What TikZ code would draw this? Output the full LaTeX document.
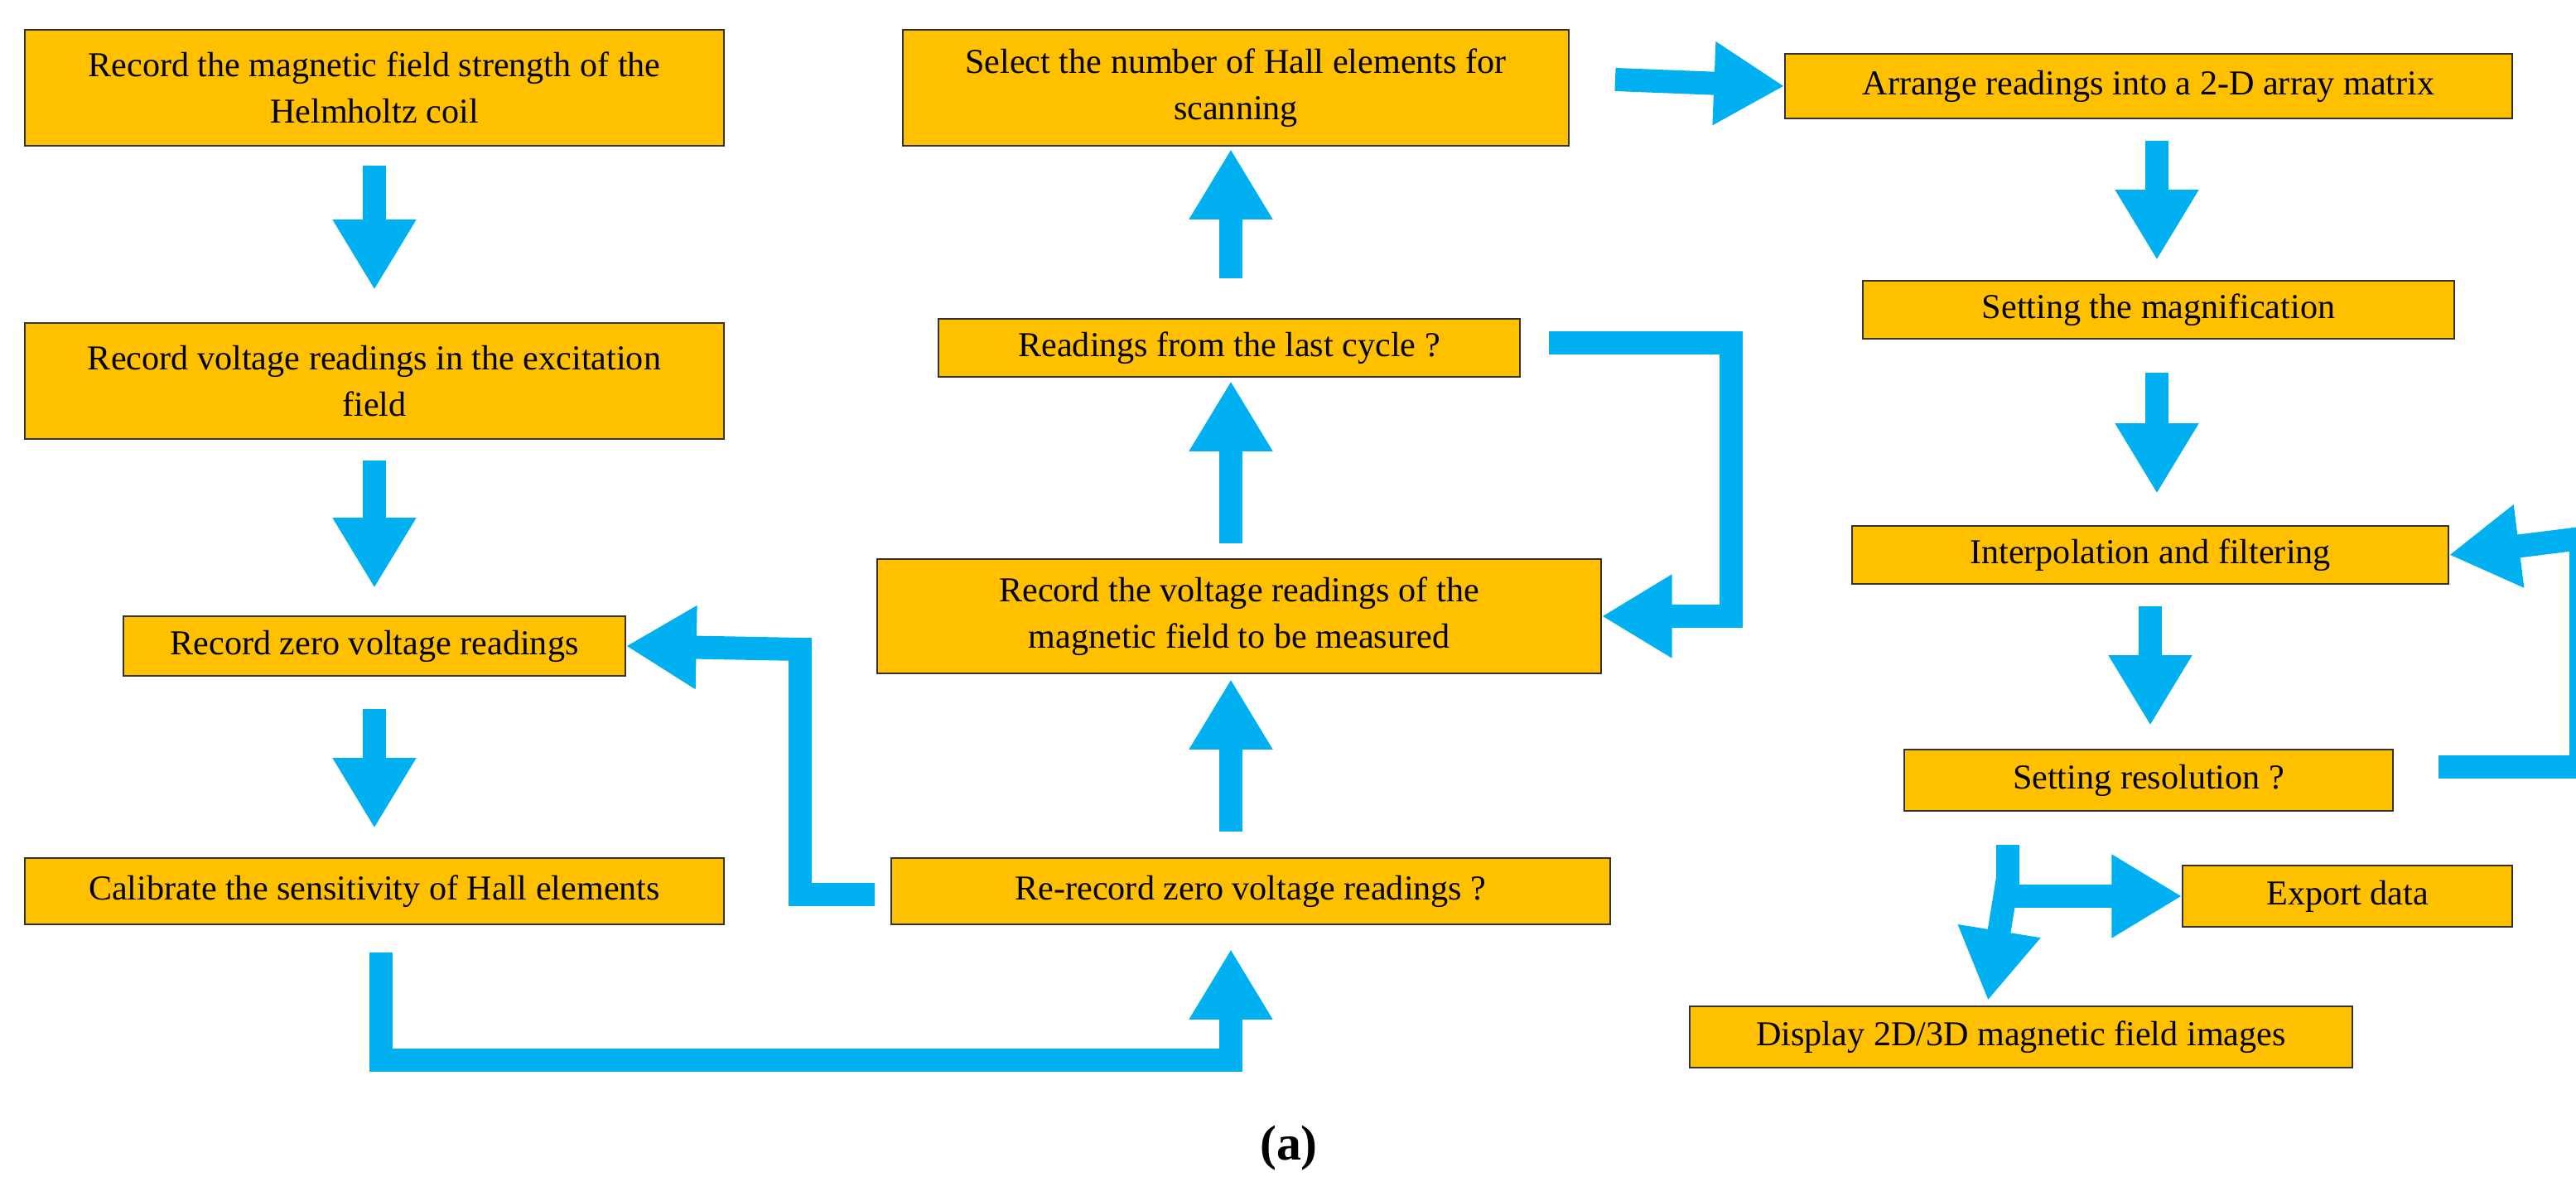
\documentclass[tikz,border=0pt]{standalone}
\usepackage{fontspec}
\setmainfont{Liberation Serif}
\usetikzlibrary{arrows.meta}
\definecolor{boxfill}{RGB}{255,192,0}
\definecolor{flowblue}{RGB}{0,176,240}
\tikzset{
  stepbox/.style={draw=black!80,fill=boxfill,align=center,inner sep=1pt,
    font=\fontsize{12}{16}\selectfont},
  bw/.style={minimum width=#1*0.02cm},
  bh/.style={minimum height=#1*0.02cm},
  flow/.style={draw=flowblue,line width=0.28cm,
    -{Triangle[length=0.85cm,width=0.95cm]}}
}
\begin{document}
\begin{tikzpicture}[x=0.02cm,y=-0.02cm]
\useasboundingbox (0,0) rectangle (1555,722);

% left column
\node[stepbox,bw=422,bh=70] (B1) at (226,53) {Record the magnetic field strength of the\\Helmholtz coil};
\node[stepbox,bw=422,bh=70] (B2) at (226,230) {Record voltage readings in the excitation\\field};
\node[stepbox,bw=303,bh=36] (B3) at (226,390) {Record zero voltage readings};
\node[stepbox,bw=422,bh=40] (B4) at (226,538) {Calibrate the sensitivity of Hall elements};

% middle column
\node[stepbox,bw=434,bh=40] (M1) at (755,538) {Re-record zero voltage readings ?};
\node[stepbox,bw=437,bh=69] (M2) at (748,372) {Record the voltage readings of the\\magnetic field to be measured};
\node[stepbox,bw=351,bh=35] (M3) at (742,210) {Readings from the last cycle ?};
\node[stepbox,bw=402,bh=70] (M4) at (746,53) {Select the number of Hall elements for\\scanning};

% right column
\node[stepbox,bw=439,bh=39] (R1) at (1297,52) {Arrange readings into a 2-D array matrix};
\node[stepbox,bw=357,bh=35] (R2) at (1303,187) {Setting the magnification};
\node[stepbox,bw=360,bh=35] (R3) at (1298,335) {Interpolation and filtering};
\node[stepbox,bw=295,bh=37] (R4) at (1297,471) {Setting resolution ?};
\node[stepbox,bw=199,bh=37] (R5) at (1417,541) {Export data};
\node[stepbox,bw=400,bh=37] (R6) at (1220,626) {Display 2D/3D magnetic field images};

\node[font=\fontsize{17}{20}\selectfont\bfseries] (cap) at (778,693) {(a)};

% bends
\coordinate (c1) at (230,640);
\coordinate (c2) at (743,640);
\coordinate (c3) at (483,540);
\coordinate (c4) at (483,392);
\coordinate (c5) at (1045,207);
\coordinate (c6) at (1045,372);
\coordinate (c7) at (1558,463);
\coordinate (c8) at (1558,325);
\coordinate (c9) at (1212,510);
\coordinate (c10) at (1212,541);

% arrows
\draw[flow] (226,100) -- (226,175);
\draw[flow] (226,278) -- (226,355);
\draw[flow] (226,428) -- (226,500);
\draw[flow] (230,575) -- (c1) -- (c2) -- (743,573);
\draw[flow] (528,540) -- (c3) -- (c4) -- (B3.east);
\draw[flow] (743,502) -- (743,410);
\draw[flow] (743,328) -- (743,230);
\draw[flow] (743,168) -- (743,90);
\draw[flow] (935,207) -- (c5) -- (c6) -- (M2.east);
\draw[flow] (975,48) -- (R1.west);
\draw[flow] (1302,85) -- (1302,157);
\draw[flow] (1302,225) -- (1302,298);
\draw[flow] (1298,366) -- (1298,438);
\draw[flow] (1472,463) -- (c7) -- (c8) -- (R3.east);
\draw[flow] (c9) -- (c10) -- (R5.west);
\draw[flow] (1212,530) -- (1200,604);
\end{tikzpicture}
\end{document}
